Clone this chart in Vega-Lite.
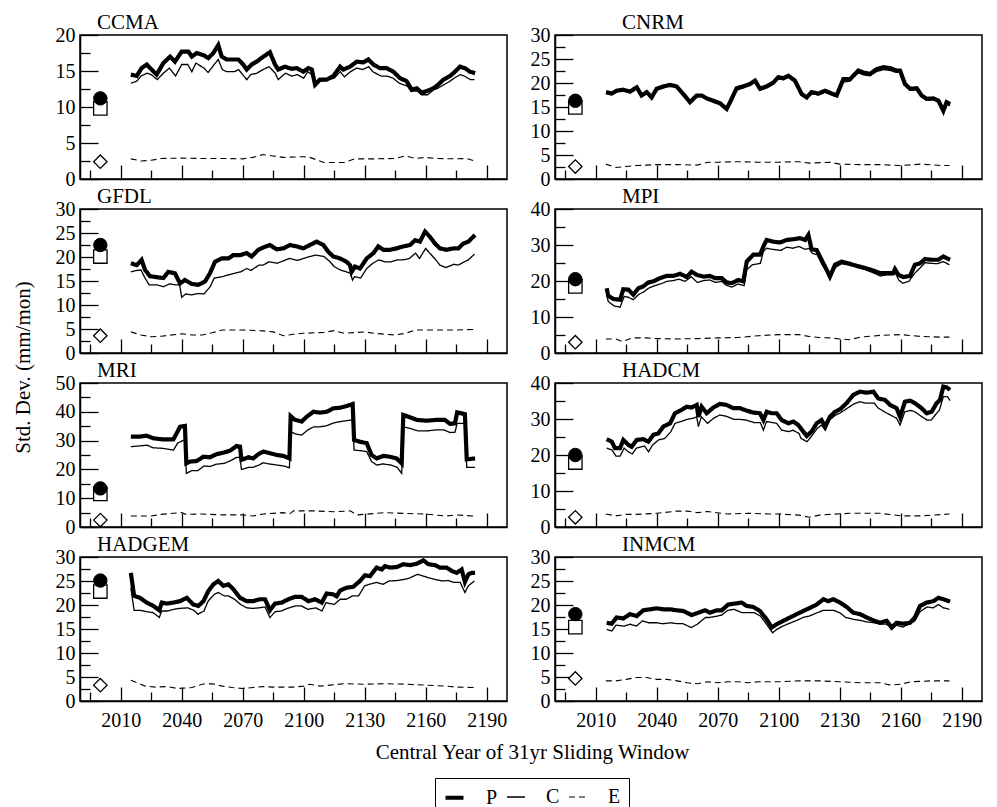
{
"$schema": "https://vega.github.io/schema/vega-lite/v6.json",
"background": "white",
"padding": {"left": 11, "top": 11, "right": 5, "bottom": 0},
"datasets": {
"obs": [
{"model":"CCMA","stat":"C","year":2000,"sd":9.8},{"model":"CCMA","stat":"E","year":2000,"sd":2.4},{"model":"CCMA","stat":"P","year":2000,"sd":11.2},
{"model":"CNRM","stat":"C","year":2000,"sd":14.9},{"model":"CNRM","stat":"E","year":2000,"sd":2.6},{"model":"CNRM","stat":"P","year":2000,"sd":16.3},
{"model":"GFDL","stat":"C","year":2000,"sd":20.1},{"model":"GFDL","stat":"E","year":2000,"sd":3.6},{"model":"GFDL","stat":"P","year":2000,"sd":22.5},
{"model":"MPI","stat":"C","year":2000,"sd":18.5},{"model":"MPI","stat":"E","year":2000,"sd":3.0},{"model":"MPI","stat":"P","year":2000,"sd":20.5},
{"model":"MRI","stat":"C","year":2000,"sd":11.5},{"model":"MRI","stat":"E","year":2000,"sd":2.4},{"model":"MRI","stat":"P","year":2000,"sd":13.4},
{"model":"HADCM","stat":"C","year":2000,"sd":17.9},{"model":"HADCM","stat":"E","year":2000,"sd":2.7},{"model":"HADCM","stat":"P","year":2000,"sd":20.0},
{"model":"HADGEM","stat":"C","year":2000,"sd":22.8},{"model":"HADGEM","stat":"E","year":2000,"sd":3.3},{"model":"HADGEM","stat":"P","year":2000,"sd":25.1},
{"model":"INMCM","stat":"C","year":2000,"sd":15.4},{"model":"INMCM","stat":"E","year":2000,"sd":4.7},{"model":"INMCM","stat":"P","year":2000,"sd":18.1}
],
"CCMA": [
{"series":"P","year":2015,"sd":14.5},{"series":"P","year":2017.9,"sd":14.3},{"series":"P","year":2020.3,"sd":15.4},{"series":"P","year":2022.8,"sd":15.9},{"series":"P","year":2025.2,"sd":15.2},{"series":"P","year":2027.7,"sd":14.5},{"series":"P","year":2031,"sd":16.1},{"series":"P","year":2034.3,"sd":17.0},{"series":"P","year":2036.7,"sd":16.3},{"series":"P","year":2040,"sd":17.7},{"series":"P","year":2043.3,"sd":17.7},{"series":"P","year":2045,"sd":17.0},{"series":"P","year":2047.4,"sd":17.5},{"series":"P","year":2050.7,"sd":17.2},{"series":"P","year":2053.1,"sd":16.8},{"series":"P","year":2055.6,"sd":17.5},{"series":"P","year":2058,"sd":18.6},{"series":"P","year":2059.7,"sd":17.0},{"series":"P","year":2062.1,"sd":16.6},{"series":"P","year":2065.4,"sd":16.6},{"series":"P","year":2067.9,"sd":16.6},{"series":"P","year":2070.3,"sd":15.9},{"series":"P","year":2072,"sd":15.2},{"series":"P","year":2074.4,"sd":15.9},{"series":"P","year":2076.9,"sd":16.3},{"series":"P","year":2080.2,"sd":17.0},{"series":"P","year":2083.4,"sd":17.6},{"series":"P","year":2085.9,"sd":15.9},{"series":"P","year":2087.5,"sd":15.2},{"series":"P","year":2090.8,"sd":15.6},{"series":"P","year":2094.1,"sd":15.3},{"series":"P","year":2096.6,"sd":15.4},{"series":"P","year":2099.8,"sd":14.9},{"series":"P","year":2102.3,"sd":15.4},{"series":"P","year":2104,"sd":15.2},{"series":"P","year":2105.6,"sd":13.1},{"series":"P","year":2108,"sd":13.8},{"series":"P","year":2111.3,"sd":13.8},{"series":"P","year":2114.6,"sd":14.3},{"series":"P","year":2117.9,"sd":15.6},{"series":"P","year":2119.5,"sd":15.2},{"series":"P","year":2122.8,"sd":15.6},{"series":"P","year":2126.1,"sd":16.3},{"series":"P","year":2129.3,"sd":16.2},{"series":"P","year":2131.8,"sd":16.6},{"series":"P","year":2134.3,"sd":15.9},{"series":"P","year":2137.5,"sd":15.4},{"series":"P","year":2140.8,"sd":15.4},{"series":"P","year":2144.1,"sd":14.9},{"series":"P","year":2147.4,"sd":14.0},{"series":"P","year":2150.6,"sd":13.6},{"series":"P","year":2153.1,"sd":12.4},{"series":"P","year":2155.6,"sd":12.6},{"series":"P","year":2158,"sd":12.0},{"series":"P","year":2160.5,"sd":12.2},{"series":"P","year":2163.8,"sd":12.6},{"series":"P","year":2166.2,"sd":13.1},{"series":"P","year":2168.7,"sd":13.8},{"series":"P","year":2172,"sd":14.3},{"series":"P","year":2174.4,"sd":14.9},{"series":"P","year":2176.9,"sd":15.6},{"series":"P","year":2179.3,"sd":15.4},{"series":"P","year":2181.8,"sd":14.9},{"series":"P","year":2184.3,"sd":14.7},
{"series":"C","year":2015,"sd":13.3},{"series":"C","year":2018,"sd":13.6},{"series":"C","year":2020,"sd":14.3},{"series":"C","year":2023,"sd":14.7},{"series":"C","year":2025,"sd":14.5},{"series":"C","year":2028,"sd":13.8},{"series":"C","year":2031,"sd":14.7},{"series":"C","year":2034,"sd":15.4},{"series":"C","year":2037,"sd":14.3},{"series":"C","year":2040,"sd":15.9},{"series":"C","year":2043,"sd":15.9},{"series":"C","year":2045,"sd":14.9},{"series":"C","year":2047,"sd":16.1},{"series":"C","year":2051,"sd":15.4},{"series":"C","year":2053,"sd":14.8},{"series":"C","year":2056,"sd":15.9},{"series":"C","year":2058,"sd":16.6},{"series":"C","year":2060,"sd":15.2},{"series":"C","year":2062,"sd":14.9},{"series":"C","year":2066,"sd":14.9},{"series":"C","year":2068,"sd":15.2},{"series":"C","year":2070,"sd":14.5},{"series":"C","year":2072,"sd":13.8},{"series":"C","year":2074,"sd":14.5},{"series":"C","year":2077,"sd":14.7},{"series":"C","year":2080,"sd":15.2},{"series":"C","year":2083,"sd":15.6},{"series":"C","year":2086,"sd":14.7},{"series":"C","year":2087.5,"sd":13.8},{"series":"C","year":2091,"sd":14.7},{"series":"C","year":2094,"sd":14.3},{"series":"C","year":2097,"sd":14.5},{"series":"C","year":2100,"sd":14.0},{"series":"C","year":2102,"sd":14.9},{"series":"C","year":2104,"sd":14.5},{"series":"C","year":2106,"sd":12.9},{"series":"C","year":2108,"sd":13.6},{"series":"C","year":2111,"sd":13.7},{"series":"C","year":2115,"sd":14.0},{"series":"C","year":2118,"sd":14.9},{"series":"C","year":2120,"sd":14.2},{"series":"C","year":2123,"sd":14.9},{"series":"C","year":2126,"sd":15.4},{"series":"C","year":2129,"sd":15.2},{"series":"C","year":2132,"sd":15.6},{"series":"C","year":2134,"sd":14.9},{"series":"C","year":2138,"sd":14.3},{"series":"C","year":2141,"sd":14.3},{"series":"C","year":2144,"sd":14.0},{"series":"C","year":2147,"sd":13.3},{"series":"C","year":2151,"sd":12.9},{"series":"C","year":2153,"sd":12.2},{"series":"C","year":2156,"sd":12.2},{"series":"C","year":2158,"sd":11.7},{"series":"C","year":2161,"sd":11.7},{"series":"C","year":2164,"sd":12.4},{"series":"C","year":2166,"sd":12.6},{"series":"C","year":2169,"sd":13.1},{"series":"C","year":2172,"sd":13.6},{"series":"C","year":2174,"sd":14.0},{"series":"C","year":2177,"sd":14.5},{"series":"C","year":2179,"sd":14.3},{"series":"C","year":2182,"sd":13.8},{"series":"C","year":2184,"sd":13.8},
{"series":"E","year":2015,"sd":2.8},{"series":"E","year":2020,"sd":2.5},{"series":"E","year":2025,"sd":2.6},{"series":"E","year":2030,"sd":2.85},{"series":"E","year":2040,"sd":2.9},{"series":"E","year":2050,"sd":2.85},{"series":"E","year":2060,"sd":2.85},{"series":"E","year":2070,"sd":2.8},{"series":"E","year":2075,"sd":3.0},{"series":"E","year":2080,"sd":3.4},{"series":"E","year":2085,"sd":3.2},{"series":"E","year":2090,"sd":3.0},{"series":"E","year":2100,"sd":3.1},{"series":"E","year":2103,"sd":3.0},{"series":"E","year":2110,"sd":2.3},{"series":"E","year":2120,"sd":2.3},{"series":"E","year":2125,"sd":2.8},{"series":"E","year":2135,"sd":2.8},{"series":"E","year":2145,"sd":2.85},{"series":"E","year":2150,"sd":3.2},{"series":"E","year":2155,"sd":2.85},{"series":"E","year":2160,"sd":3.0},{"series":"E","year":2165,"sd":2.85},{"series":"E","year":2175,"sd":2.8},{"series":"E","year":2180,"sd":2.85},{"series":"E","year":2184,"sd":2.5}
],
"CNRM": [
{"series":"P","year":2015.1,"sd":18.1},{"series":"P","year":2017.9,"sd":17.8},{"series":"P","year":2020.3,"sd":18.4},{"series":"P","year":2023.6,"sd":18.6},{"series":"P","year":2026.9,"sd":18.2},{"series":"P","year":2030.2,"sd":19.1},{"series":"P","year":2032.6,"sd":17.4},{"series":"P","year":2035.1,"sd":18.1},{"series":"P","year":2037.5,"sd":17.0},{"series":"P","year":2040,"sd":18.8},{"series":"P","year":2043.3,"sd":19.3},{"series":"P","year":2046.6,"sd":19.6},{"series":"P","year":2049.8,"sd":19.3},{"series":"P","year":2053.1,"sd":17.7},{"series":"P","year":2056.4,"sd":16.0},{"series":"P","year":2059.7,"sd":17.4},{"series":"P","year":2062.1,"sd":17.4},{"series":"P","year":2064.6,"sd":16.8},{"series":"P","year":2067.9,"sd":16.3},{"series":"P","year":2071.1,"sd":15.8},{"series":"P","year":2074.4,"sd":14.6},{"series":"P","year":2076.1,"sd":16.0},{"series":"P","year":2079.3,"sd":18.9},{"series":"P","year":2082.6,"sd":19.3},{"series":"P","year":2085.9,"sd":19.8},{"series":"P","year":2088.4,"sd":20.5},{"series":"P","year":2090.8,"sd":18.8},{"series":"P","year":2094.1,"sd":19.3},{"series":"P","year":2097.4,"sd":20.1},{"series":"P","year":2099.8,"sd":21.2},{"series":"P","year":2102.3,"sd":21.0},{"series":"P","year":2104.8,"sd":21.5},{"series":"P","year":2108,"sd":20.5},{"series":"P","year":2111.3,"sd":17.7},{"series":"P","year":2113.8,"sd":17.0},{"series":"P","year":2116.2,"sd":18.1},{"series":"P","year":2119.5,"sd":17.8},{"series":"P","year":2122.8,"sd":18.4},{"series":"P","year":2126.1,"sd":17.8},{"series":"P","year":2128.5,"sd":17.4},{"series":"P","year":2131.8,"sd":20.8},{"series":"P","year":2135.1,"sd":20.8},{"series":"P","year":2136.7,"sd":21.5},{"series":"P","year":2139.2,"sd":22.6},{"series":"P","year":2141.6,"sd":22.2},{"series":"P","year":2144.9,"sd":21.9},{"series":"P","year":2148.2,"sd":22.9},{"series":"P","year":2151.5,"sd":23.3},{"series":"P","year":2154.8,"sd":23.1},{"series":"P","year":2158,"sd":22.6},{"series":"P","year":2159.7,"sd":22.6},{"series":"P","year":2162.1,"sd":19.8},{"series":"P","year":2164.6,"sd":18.8},{"series":"P","year":2167.9,"sd":18.9},{"series":"P","year":2170.3,"sd":17.4},{"series":"P","year":2172.8,"sd":16.7},{"series":"P","year":2176.1,"sd":16.8},{"series":"P","year":2178.6,"sd":16.3},{"series":"P","year":2181,"sd":14.2},{"series":"P","year":2182.6,"sd":16.0},{"series":"P","year":2184.3,"sd":15.6},
{"series":"C","year":2015.1,"sd":17.9},{"series":"C","year":2017.9,"sd":17.6},{"series":"C","year":2020.3,"sd":18.2},{"series":"C","year":2023.6,"sd":18.4},{"series":"C","year":2026.9,"sd":18.0},{"series":"C","year":2030.2,"sd":18.8},{"series":"C","year":2032.6,"sd":17.2},{"series":"C","year":2035.1,"sd":17.9},{"series":"C","year":2037.5,"sd":16.8},{"series":"C","year":2040,"sd":18.5},{"series":"C","year":2043.3,"sd":19.0},{"series":"C","year":2046.6,"sd":19.4},{"series":"C","year":2049.8,"sd":19.1},{"series":"C","year":2053.1,"sd":17.4},{"series":"C","year":2056.4,"sd":15.8},{"series":"C","year":2059.7,"sd":17.1},{"series":"C","year":2062.1,"sd":17.2},{"series":"C","year":2064.6,"sd":16.6},{"series":"C","year":2067.9,"sd":16.0},{"series":"C","year":2071.1,"sd":15.5},{"series":"C","year":2074.4,"sd":14.4},{"series":"C","year":2076.1,"sd":15.7},{"series":"C","year":2079.3,"sd":18.5},{"series":"C","year":2082.6,"sd":19.0},{"series":"C","year":2085.9,"sd":19.5},{"series":"C","year":2088.4,"sd":20.2},{"series":"C","year":2090.8,"sd":18.5},{"series":"C","year":2094.1,"sd":19.0},{"series":"C","year":2097.4,"sd":19.8},{"series":"C","year":2099.8,"sd":20.9},{"series":"C","year":2102.3,"sd":20.7},{"series":"C","year":2104.8,"sd":21.2},{"series":"C","year":2108,"sd":20.2},{"series":"C","year":2111.3,"sd":17.4},{"series":"C","year":2113.8,"sd":16.8},{"series":"C","year":2116.2,"sd":17.8},{"series":"C","year":2119.5,"sd":17.5},{"series":"C","year":2122.8,"sd":18.1},{"series":"C","year":2126.1,"sd":17.5},{"series":"C","year":2128.5,"sd":17.2},{"series":"C","year":2131.8,"sd":20.2},{"series":"C","year":2135.1,"sd":20.4},{"series":"C","year":2136.7,"sd":21.2},{"series":"C","year":2139.2,"sd":22.1},{"series":"C","year":2141.6,"sd":21.7},{"series":"C","year":2144.9,"sd":21.5},{"series":"C","year":2148.2,"sd":22.4},{"series":"C","year":2151.5,"sd":22.8},{"series":"C","year":2154.8,"sd":22.6},{"series":"C","year":2158,"sd":22.2},{"series":"C","year":2159.7,"sd":22.3},{"series":"C","year":2162.1,"sd":19.5},{"series":"C","year":2164.6,"sd":18.5},{"series":"C","year":2167.9,"sd":18.6},{"series":"C","year":2170.3,"sd":17.1},{"series":"C","year":2172.8,"sd":16.4},{"series":"C","year":2176.1,"sd":16.5},{"series":"C","year":2178.6,"sd":16.0},{"series":"C","year":2181,"sd":14.0},{"series":"C","year":2182.6,"sd":15.7},{"series":"C","year":2184.3,"sd":15.3},
{"series":"E","year":2015,"sd":3.1},{"series":"E","year":2020,"sd":2.4},{"series":"E","year":2025,"sd":2.6},{"series":"E","year":2030,"sd":2.8},{"series":"E","year":2040,"sd":3.0},{"series":"E","year":2050,"sd":3.0},{"series":"E","year":2060,"sd":2.9},{"series":"E","year":2065,"sd":3.5},{"series":"E","year":2070,"sd":3.5},{"series":"E","year":2080,"sd":3.6},{"series":"E","year":2090,"sd":3.5},{"series":"E","year":2100,"sd":3.5},{"series":"E","year":2110,"sd":3.6},{"series":"E","year":2115,"sd":3.3},{"series":"E","year":2125,"sd":3.5},{"series":"E","year":2130,"sd":3.1},{"series":"E","year":2140,"sd":3.0},{"series":"E","year":2150,"sd":3.0},{"series":"E","year":2160,"sd":2.8},{"series":"E","year":2170,"sd":3.1},{"series":"E","year":2180,"sd":2.8},{"series":"E","year":2184,"sd":2.8}
],
"GFDL": [
{"series":"P","year":2015,"sd":18.7},{"series":"P","year":2017.9,"sd":18.3},{"series":"P","year":2020.3,"sd":19.4},{"series":"P","year":2022,"sd":17.3},{"series":"P","year":2024.4,"sd":16.0},{"series":"P","year":2027.7,"sd":15.8},{"series":"P","year":2031,"sd":15.6},{"series":"P","year":2033.4,"sd":16.9},{"series":"P","year":2036.7,"sd":16.6},{"series":"P","year":2039.2,"sd":14.5},{"series":"P","year":2041.6,"sd":15.2},{"series":"P","year":2044.9,"sd":14.4},{"series":"P","year":2048.2,"sd":14.2},{"series":"P","year":2051.5,"sd":14.9},{"series":"P","year":2053.9,"sd":16.6},{"series":"P","year":2056.4,"sd":19.0},{"series":"P","year":2059.7,"sd":19.7},{"series":"P","year":2063,"sd":19.7},{"series":"P","year":2065.4,"sd":20.4},{"series":"P","year":2068.7,"sd":20.4},{"series":"P","year":2072,"sd":20.8},{"series":"P","year":2074.4,"sd":20.1},{"series":"P","year":2077.7,"sd":21.5},{"series":"P","year":2080.2,"sd":22.0},{"series":"P","year":2083.4,"sd":22.5},{"series":"P","year":2086.7,"sd":21.6},{"series":"P","year":2090,"sd":21.8},{"series":"P","year":2093.3,"sd":22.5},{"series":"P","year":2096.6,"sd":22.2},{"series":"P","year":2099.8,"sd":21.8},{"series":"P","year":2103.1,"sd":22.5},{"series":"P","year":2106.4,"sd":23.2},{"series":"P","year":2109.7,"sd":22.5},{"series":"P","year":2112.1,"sd":21.1},{"series":"P","year":2114.6,"sd":20.1},{"series":"P","year":2117.9,"sd":19.7},{"series":"P","year":2121.1,"sd":19.0},{"series":"P","year":2122.8,"sd":18.3},{"series":"P","year":2123.6,"sd":16.9},{"series":"P","year":2125.2,"sd":18.0},{"series":"P","year":2127.7,"sd":17.6},{"series":"P","year":2131,"sd":19.7},{"series":"P","year":2134.3,"sd":20.8},{"series":"P","year":2136.7,"sd":22.2},{"series":"P","year":2139.2,"sd":21.5},{"series":"P","year":2142.5,"sd":21.5},{"series":"P","year":2145.7,"sd":21.8},{"series":"P","year":2149,"sd":22.2},{"series":"P","year":2152.3,"sd":22.5},{"series":"P","year":2154.8,"sd":23.5},{"series":"P","year":2157.2,"sd":23.2},{"series":"P","year":2159.7,"sd":25.3},{"series":"P","year":2162.1,"sd":24.2},{"series":"P","year":2164.6,"sd":22.8},{"series":"P","year":2167,"sd":21.8},{"series":"P","year":2170.3,"sd":21.5},{"series":"P","year":2173.6,"sd":21.8},{"series":"P","year":2176.1,"sd":21.8},{"series":"P","year":2178.5,"sd":22.8},{"series":"P","year":2181,"sd":23.2},{"series":"P","year":2184.3,"sd":24.6},
{"series":"C","year":2015,"sd":16.9},{"series":"C","year":2018,"sd":17.2},{"series":"C","year":2020,"sd":17.3},{"series":"C","year":2022,"sd":15.6},{"series":"C","year":2024,"sd":14.2},{"series":"C","year":2028,"sd":14.2},{"series":"C","year":2031,"sd":13.8},{"series":"C","year":2034,"sd":14.4},{"series":"C","year":2037,"sd":14.2},{"series":"C","year":2039,"sd":14.2},{"series":"C","year":2040,"sd":11.6},{"series":"C","year":2042,"sd":12.3},{"series":"C","year":2045,"sd":12.1},{"series":"C","year":2048,"sd":12.4},{"series":"C","year":2051,"sd":12.3},{"series":"C","year":2054,"sd":13.8},{"series":"C","year":2056,"sd":15.6},{"series":"C","year":2060,"sd":15.9},{"series":"C","year":2063,"sd":16.3},{"series":"C","year":2066,"sd":16.6},{"series":"C","year":2069,"sd":16.9},{"series":"C","year":2072,"sd":17.6},{"series":"C","year":2074,"sd":17.2},{"series":"C","year":2078,"sd":18.3},{"series":"C","year":2080,"sd":18.3},{"series":"C","year":2083,"sd":19.0},{"series":"C","year":2087,"sd":18.7},{"series":"C","year":2090,"sd":19.2},{"series":"C","year":2093,"sd":19.7},{"series":"C","year":2097,"sd":19.3},{"series":"C","year":2100,"sd":19.7},{"series":"C","year":2103,"sd":20.1},{"series":"C","year":2106,"sd":20.4},{"series":"C","year":2110,"sd":20.1},{"series":"C","year":2113,"sd":19.0},{"series":"C","year":2115,"sd":18.0},{"series":"C","year":2118,"sd":17.3},{"series":"C","year":2121,"sd":16.9},{"series":"C","year":2123,"sd":16.6},{"series":"C","year":2124,"sd":15.2},{"series":"C","year":2125,"sd":15.9},{"series":"C","year":2128,"sd":15.6},{"series":"C","year":2131,"sd":17.6},{"series":"C","year":2134,"sd":18.7},{"series":"C","year":2137,"sd":19.4},{"series":"C","year":2140,"sd":19.0},{"series":"C","year":2143,"sd":19.0},{"series":"C","year":2146,"sd":19.4},{"series":"C","year":2149,"sd":19.4},{"series":"C","year":2152,"sd":19.7},{"series":"C","year":2155,"sd":20.8},{"series":"C","year":2157,"sd":19.7},{"series":"C","year":2160,"sd":21.8},{"series":"C","year":2162,"sd":20.8},{"series":"C","year":2165,"sd":19.4},{"series":"C","year":2167,"sd":18.3},{"series":"C","year":2170,"sd":17.8},{"series":"C","year":2174,"sd":18.5},{"series":"C","year":2176,"sd":18.3},{"series":"C","year":2179,"sd":19.0},{"series":"C","year":2181,"sd":19.4},{"series":"C","year":2184,"sd":20.6},
{"series":"E","year":2015,"sd":4.4},{"series":"E","year":2020,"sd":3.75},{"series":"E","year":2025,"sd":3.4},{"series":"E","year":2030,"sd":3.5},{"series":"E","year":2040,"sd":4.0},{"series":"E","year":2045,"sd":3.75},{"series":"E","year":2050,"sd":3.75},{"series":"E","year":2055,"sd":4.2},{"series":"E","year":2060,"sd":4.8},{"series":"E","year":2070,"sd":4.8},{"series":"E","year":2080,"sd":4.6},{"series":"E","year":2085,"sd":4.4},{"series":"E","year":2090,"sd":3.6},{"series":"E","year":2095,"sd":3.9},{"series":"E","year":2100,"sd":4.1},{"series":"E","year":2110,"sd":4.3},{"series":"E","year":2115,"sd":4.65},{"series":"E","year":2120,"sd":4.1},{"series":"E","year":2130,"sd":4.4},{"series":"E","year":2135,"sd":4.1},{"series":"E","year":2140,"sd":3.9},{"series":"E","year":2145,"sd":3.75},{"series":"E","year":2150,"sd":4.1},{"series":"E","year":2155,"sd":4.8},{"series":"E","year":2165,"sd":4.8},{"series":"E","year":2175,"sd":4.8},{"series":"E","year":2184,"sd":4.9}
],
"MPI": [
{"series":"P","year":2015.4,"sd":18.0},{"series":"P","year":2016.2,"sd":15.9},{"series":"P","year":2018.7,"sd":15.0},{"series":"P","year":2022,"sd":14.8},{"series":"P","year":2023.6,"sd":17.7},{"series":"P","year":2026.1,"sd":17.6},{"series":"P","year":2028.5,"sd":16.2},{"series":"P","year":2031,"sd":18.0},{"series":"P","year":2033.4,"sd":18.5},{"series":"P","year":2035.9,"sd":19.6},{"series":"P","year":2038.4,"sd":19.9},{"series":"P","year":2041.6,"sd":20.8},{"series":"P","year":2044.9,"sd":21.4},{"series":"P","year":2048.2,"sd":21.4},{"series":"P","year":2051.5,"sd":22.0},{"series":"P","year":2054.8,"sd":21.1},{"series":"P","year":2057.2,"sd":22.6},{"series":"P","year":2059.7,"sd":21.7},{"series":"P","year":2063,"sd":21.2},{"series":"P","year":2066.2,"sd":21.4},{"series":"P","year":2068.7,"sd":20.8},{"series":"P","year":2072,"sd":20.8},{"series":"P","year":2074.4,"sd":19.6},{"series":"P","year":2076.9,"sd":19.4},{"series":"P","year":2080.2,"sd":20.3},{"series":"P","year":2082.6,"sd":19.9},{"series":"P","year":2084.3,"sd":25.4},{"series":"P","year":2087.5,"sd":27.3},{"series":"P","year":2090.8,"sd":27.3},{"series":"P","year":2092.5,"sd":29.6},{"series":"P","year":2094.1,"sd":31.4},{"series":"P","year":2097.4,"sd":30.9},{"series":"P","year":2100.7,"sd":30.7},{"series":"P","year":2103.9,"sd":31.4},{"series":"P","year":2107.2,"sd":31.6},{"series":"P","year":2110.5,"sd":31.9},{"series":"P","year":2113,"sd":31.4},{"series":"P","year":2114.6,"sd":32.8},{"series":"P","year":2116.2,"sd":28.8},{"series":"P","year":2118.7,"sd":28.6},{"series":"P","year":2121.1,"sd":25.9},{"series":"P","year":2123.6,"sd":23.1},{"series":"P","year":2125.2,"sd":21.2},{"series":"P","year":2127.7,"sd":24.5},{"series":"P","year":2131,"sd":25.4},{"series":"P","year":2134.3,"sd":24.9},{"series":"P","year":2138.4,"sd":24.2},{"series":"P","year":2142.5,"sd":23.6},{"series":"P","year":2146.6,"sd":22.9},{"series":"P","year":2149.8,"sd":22.2},{"series":"P","year":2153.1,"sd":22.2},{"series":"P","year":2156.4,"sd":22.2},{"series":"P","year":2157.2,"sd":23.3},{"series":"P","year":2158.9,"sd":21.7},{"series":"P","year":2161.3,"sd":21.1},{"series":"P","year":2164.6,"sd":21.4},{"series":"P","year":2167,"sd":24.5},{"series":"P","year":2169.5,"sd":24.9},{"series":"P","year":2172,"sd":26.1},{"series":"P","year":2175.2,"sd":25.9},{"series":"P","year":2178.5,"sd":25.9},{"series":"P","year":2181,"sd":26.8},{"series":"P","year":2184.3,"sd":25.9},
{"series":"C","year":2015.4,"sd":16.2},{"series":"C","year":2016.2,"sd":14.3},{"series":"C","year":2019,"sd":13.1},{"series":"C","year":2022,"sd":12.7},{"series":"C","year":2024,"sd":15.7},{"series":"C","year":2026,"sd":15.5},{"series":"C","year":2028.5,"sd":14.8},{"series":"C","year":2031,"sd":16.2},{"series":"C","year":2034,"sd":17.1},{"series":"C","year":2036,"sd":18.0},{"series":"C","year":2039,"sd":18.7},{"series":"C","year":2042,"sd":19.2},{"series":"C","year":2045,"sd":19.9},{"series":"C","year":2048,"sd":20.1},{"series":"C","year":2051,"sd":20.5},{"series":"C","year":2054,"sd":19.9},{"series":"C","year":2057,"sd":21.2},{"series":"C","year":2060,"sd":19.6},{"series":"C","year":2063,"sd":20.1},{"series":"C","year":2066,"sd":20.3},{"series":"C","year":2069,"sd":19.6},{"series":"C","year":2072,"sd":19.9},{"series":"C","year":2074,"sd":18.9},{"series":"C","year":2077,"sd":18.3},{"series":"C","year":2080,"sd":19.2},{"series":"C","year":2083,"sd":18.7},{"series":"C","year":2084.3,"sd":23.1},{"series":"C","year":2087,"sd":24.5},{"series":"C","year":2091,"sd":24.9},{"series":"C","year":2092.5,"sd":28.2},{"series":"C","year":2094,"sd":29.1},{"series":"C","year":2097,"sd":28.8},{"series":"C","year":2101,"sd":28.5},{"series":"C","year":2104,"sd":29.4},{"series":"C","year":2107,"sd":29.1},{"series":"C","year":2110,"sd":29.6},{"series":"C","year":2113,"sd":28.8},{"series":"C","year":2115,"sd":29.1},{"series":"C","year":2116.5,"sd":27.7},{"series":"C","year":2119,"sd":27.3},{"series":"C","year":2121,"sd":24.9},{"series":"C","year":2124,"sd":22.2},{"series":"C","year":2125,"sd":20.8},{"series":"C","year":2128,"sd":23.8},{"series":"C","year":2131,"sd":24.8},{"series":"C","year":2134,"sd":24.5},{"series":"C","year":2138,"sd":24.0},{"series":"C","year":2142,"sd":23.3},{"series":"C","year":2146,"sd":22.4},{"series":"C","year":2150,"sd":21.4},{"series":"C","year":2153,"sd":21.7},{"series":"C","year":2156,"sd":21.7},{"series":"C","year":2157.5,"sd":22.2},{"series":"C","year":2159,"sd":20.3},{"series":"C","year":2161,"sd":19.4},{"series":"C","year":2164,"sd":19.9},{"series":"C","year":2167,"sd":22.2},{"series":"C","year":2169.5,"sd":23.6},{"series":"C","year":2172,"sd":25.1},{"series":"C","year":2175,"sd":24.9},{"series":"C","year":2178,"sd":24.8},{"series":"C","year":2181,"sd":25.4},{"series":"C","year":2184,"sd":24.5},
{"series":"E","year":2015,"sd":3.9},{"series":"E","year":2020,"sd":3.9},{"series":"E","year":2023,"sd":3.2},{"series":"E","year":2028,"sd":4.2},{"series":"E","year":2035,"sd":4.2},{"series":"E","year":2040,"sd":4.0},{"series":"E","year":2050,"sd":3.9},{"series":"E","year":2060,"sd":4.0},{"series":"E","year":2070,"sd":4.2},{"series":"E","year":2080,"sd":4.3},{"series":"E","year":2090,"sd":4.8},{"series":"E","year":2100,"sd":5.1},{"series":"E","year":2110,"sd":5.1},{"series":"E","year":2115,"sd":4.6},{"series":"E","year":2120,"sd":4.3},{"series":"E","year":2125,"sd":4.2},{"series":"E","year":2130,"sd":3.9},{"series":"E","year":2135,"sd":3.7},{"series":"E","year":2140,"sd":4.4},{"series":"E","year":2150,"sd":4.9},{"series":"E","year":2160,"sd":5.1},{"series":"E","year":2170,"sd":4.6},{"series":"E","year":2180,"sd":4.4},{"series":"E","year":2184,"sd":4.4}
],
"MRI": [
{"series":"P","year":2015,"sd":31.4},{"series":"P","year":2019.5,"sd":31.4},{"series":"P","year":2022.8,"sd":31.7},{"series":"P","year":2026.1,"sd":30.8},{"series":"P","year":2031,"sd":30.4},{"series":"P","year":2035.9,"sd":30.4},{"series":"P","year":2037.5,"sd":32.5},{"series":"P","year":2039.2,"sd":34.8},{"series":"P","year":2041.6,"sd":35.1},{"series":"P","year":2042.3,"sd":22.1},{"series":"P","year":2044.1,"sd":22.7},{"series":"P","year":2047.4,"sd":22.9},{"series":"P","year":2050.7,"sd":24.4},{"series":"P","year":2053.9,"sd":24.2},{"series":"P","year":2057.2,"sd":25.3},{"series":"P","year":2060.5,"sd":25.8},{"series":"P","year":2063.8,"sd":26.5},{"series":"P","year":2067,"sd":28.1},{"series":"P","year":2068.7,"sd":27.9},{"series":"P","year":2069.4,"sd":23.3},{"series":"P","year":2072.8,"sd":24.2},{"series":"P","year":2075.2,"sd":23.8},{"series":"P","year":2077.7,"sd":25.3},{"series":"P","year":2080.2,"sd":26.2},{"series":"P","year":2083.4,"sd":25.6},{"series":"P","year":2086.7,"sd":25.0},{"series":"P","year":2090,"sd":24.7},{"series":"P","year":2093,"sd":23.8},{"series":"P","year":2093.6,"sd":38.5},{"series":"P","year":2095.7,"sd":37.2},{"series":"P","year":2099,"sd":36.6},{"series":"P","year":2101.5,"sd":38.3},{"series":"P","year":2104.8,"sd":40.0},{"series":"P","year":2108,"sd":39.7},{"series":"P","year":2111.3,"sd":40.0},{"series":"P","year":2114.6,"sd":41.2},{"series":"P","year":2117.9,"sd":41.4},{"series":"P","year":2121.1,"sd":42.0},{"series":"P","year":2124.1,"sd":42.7},{"series":"P","year":2124.8,"sd":30.2},{"series":"P","year":2127.7,"sd":29.6},{"series":"P","year":2131,"sd":29.1},{"series":"P","year":2133.4,"sd":25.0},{"series":"P","year":2135.9,"sd":23.8},{"series":"P","year":2139.2,"sd":24.7},{"series":"P","year":2142.5,"sd":24.4},{"series":"P","year":2145.7,"sd":23.8},{"series":"P","year":2148.2,"sd":22.1},{"series":"P","year":2149,"sd":38.9},{"series":"P","year":2152.3,"sd":38.1},{"series":"P","year":2155.6,"sd":37.2},{"series":"P","year":2160.5,"sd":36.9},{"series":"P","year":2165.4,"sd":37.2},{"series":"P","year":2169.5,"sd":37.2},{"series":"P","year":2172,"sd":35.8},{"series":"P","year":2174.4,"sd":36.0},{"series":"P","year":2175.5,"sd":39.8},{"series":"P","year":2179.3,"sd":39.2},{"series":"P","year":2180.2,"sd":23.5},{"series":"P","year":2184.3,"sd":23.8},
{"series":"C","year":2015,"sd":27.9},{"series":"C","year":2020,"sd":28.2},{"series":"C","year":2023,"sd":28.4},{"series":"C","year":2026,"sd":27.5},{"series":"C","year":2031,"sd":27.3},{"series":"C","year":2036,"sd":26.7},{"series":"C","year":2038,"sd":29.1},{"series":"C","year":2041.6,"sd":30.4},{"series":"C","year":2042.3,"sd":18.6},{"series":"C","year":2045,"sd":19.6},{"series":"C","year":2048,"sd":19.6},{"series":"C","year":2051,"sd":21.2},{"series":"C","year":2054,"sd":21.0},{"series":"C","year":2057,"sd":21.8},{"series":"C","year":2061,"sd":22.1},{"series":"C","year":2064,"sd":23.0},{"series":"C","year":2067,"sd":24.2},{"series":"C","year":2068.7,"sd":24.2},{"series":"C","year":2069.4,"sd":20.0},{"series":"C","year":2073,"sd":20.7},{"series":"C","year":2075,"sd":20.7},{"series":"C","year":2078,"sd":21.5},{"series":"C","year":2080,"sd":22.3},{"series":"C","year":2083,"sd":21.9},{"series":"C","year":2087,"sd":21.5},{"series":"C","year":2090,"sd":21.2},{"series":"C","year":2093,"sd":20.6},{"series":"C","year":2093.6,"sd":33.1},{"series":"C","year":2096,"sd":32.3},{"series":"C","year":2099,"sd":31.9},{"series":"C","year":2102,"sd":33.7},{"series":"C","year":2105,"sd":34.8},{"series":"C","year":2108,"sd":34.8},{"series":"C","year":2111,"sd":35.1},{"series":"C","year":2115,"sd":36.2},{"series":"C","year":2118,"sd":36.6},{"series":"C","year":2121,"sd":36.9},{"series":"C","year":2124.1,"sd":37.2},{"series":"C","year":2124.8,"sd":26.7},{"series":"C","year":2128,"sd":26.5},{"series":"C","year":2131,"sd":26.2},{"series":"C","year":2133.4,"sd":22.7},{"series":"C","year":2136,"sd":21.5},{"series":"C","year":2139,"sd":21.9},{"series":"C","year":2143,"sd":21.5},{"series":"C","year":2146,"sd":20.7},{"series":"C","year":2148.2,"sd":18.6},{"series":"C","year":2149,"sd":34.8},{"series":"C","year":2152,"sd":34.3},{"series":"C","year":2156,"sd":33.4},{"series":"C","year":2161,"sd":33.4},{"series":"C","year":2165,"sd":33.7},{"series":"C","year":2169,"sd":33.7},{"series":"C","year":2172,"sd":32.8},{"series":"C","year":2174.4,"sd":32.9},{"series":"C","year":2175.5,"sd":36.0},{"series":"C","year":2179.3,"sd":36.0},{"series":"C","year":2180.2,"sd":20.7},{"series":"C","year":2184.3,"sd":20.7},
{"series":"E","year":2015,"sd":3.8},{"series":"E","year":2025,"sd":3.8},{"series":"E","year":2030,"sd":4.4},{"series":"E","year":2040,"sd":5.0},{"series":"E","year":2042,"sd":4.4},{"series":"E","year":2050,"sd":4.5},{"series":"E","year":2060,"sd":4.2},{"series":"E","year":2070,"sd":4.2},{"series":"E","year":2075,"sd":3.8},{"series":"E","year":2080,"sd":4.5},{"series":"E","year":2090,"sd":5.0},{"series":"E","year":2093,"sd":4.5},{"series":"E","year":2095,"sd":5.6},{"series":"E","year":2105,"sd":5.6},{"series":"E","year":2115,"sd":5.3},{"series":"E","year":2123,"sd":5.6},{"series":"E","year":2126,"sd":4.2},{"series":"E","year":2130,"sd":4.4},{"series":"E","year":2140,"sd":5.0},{"series":"E","year":2150,"sd":4.7},{"series":"E","year":2160,"sd":4.5},{"series":"E","year":2170,"sd":3.8},{"series":"E","year":2175,"sd":4.2},{"series":"E","year":2184,"sd":3.8}
],
"HADCM": [
{"series":"P","year":2015.4,"sd":24.4},{"series":"P","year":2017.9,"sd":23.7},{"series":"P","year":2019.5,"sd":21.9},{"series":"P","year":2022,"sd":21.9},{"series":"P","year":2023.6,"sd":24.2},{"series":"P","year":2026.1,"sd":22.8},{"series":"P","year":2027.7,"sd":22.3},{"series":"P","year":2030.2,"sd":24.2},{"series":"P","year":2033.4,"sd":24.4},{"series":"P","year":2035.9,"sd":23.7},{"series":"P","year":2038.4,"sd":25.6},{"series":"P","year":2040.8,"sd":26.0},{"series":"P","year":2043.3,"sd":27.9},{"series":"P","year":2046.6,"sd":28.8},{"series":"P","year":2049,"sd":31.6},{"series":"P","year":2051.5,"sd":32.3},{"series":"P","year":2054.8,"sd":33.4},{"series":"P","year":2057.2,"sd":33.2},{"series":"P","year":2059.7,"sd":33.9},{"series":"P","year":2060.5,"sd":30.6},{"series":"P","year":2062.1,"sd":33.4},{"series":"P","year":2064.6,"sd":31.6},{"series":"P","year":2067.9,"sd":33.2},{"series":"P","year":2071.1,"sd":34.2},{"series":"P","year":2074.4,"sd":33.9},{"series":"P","year":2077.7,"sd":33.0},{"series":"P","year":2081,"sd":33.0},{"series":"P","year":2084.3,"sd":32.3},{"series":"P","year":2087.5,"sd":31.8},{"series":"P","year":2090.8,"sd":31.6},{"series":"P","year":2092.5,"sd":29.7},{"series":"P","year":2094.1,"sd":32.0},{"series":"P","year":2096.6,"sd":31.6},{"series":"P","year":2099,"sd":31.6},{"series":"P","year":2101.5,"sd":29.7},{"series":"P","year":2104.8,"sd":28.8},{"series":"P","year":2107.2,"sd":29.3},{"series":"P","year":2109.7,"sd":28.3},{"series":"P","year":2111.3,"sd":27.1},{"series":"P","year":2113.8,"sd":25.3},{"series":"P","year":2116.2,"sd":26.5},{"series":"P","year":2118.7,"sd":28.8},{"series":"P","year":2121.1,"sd":29.7},{"series":"P","year":2122.8,"sd":27.9},{"series":"P","year":2125.2,"sd":30.6},{"series":"P","year":2127.7,"sd":32.0},{"series":"P","year":2130.2,"sd":32.7},{"series":"P","year":2133.4,"sd":34.4},{"series":"P","year":2136.7,"sd":36.7},{"series":"P","year":2140,"sd":37.6},{"series":"P","year":2143.3,"sd":37.3},{"series":"P","year":2146.6,"sd":37.6},{"series":"P","year":2149,"sd":35.7},{"series":"P","year":2152.3,"sd":35.3},{"series":"P","year":2154.8,"sd":33.9},{"series":"P","year":2158,"sd":33.0},{"series":"P","year":2159.7,"sd":30.6},{"series":"P","year":2162.1,"sd":34.8},{"series":"P","year":2164.6,"sd":35.1},{"series":"P","year":2167,"sd":34.4},{"series":"P","year":2170.3,"sd":33.0},{"series":"P","year":2172.8,"sd":31.6},{"series":"P","year":2175.2,"sd":32.0},{"series":"P","year":2177.7,"sd":34.4},{"series":"P","year":2179.3,"sd":35.3},{"series":"P","year":2181,"sd":39.0},{"series":"P","year":2182.6,"sd":38.8},{"series":"P","year":2184.3,"sd":38.1},
{"series":"C","year":2015.4,"sd":21.9},{"series":"C","year":2018,"sd":21.4},{"series":"C","year":2020,"sd":19.7},{"series":"C","year":2022,"sd":19.7},{"series":"C","year":2024,"sd":21.9},{"series":"C","year":2026,"sd":20.9},{"series":"C","year":2028,"sd":20.3},{"series":"C","year":2030,"sd":21.9},{"series":"C","year":2034,"sd":22.5},{"series":"C","year":2036,"sd":20.9},{"series":"C","year":2038,"sd":22.8},{"series":"C","year":2041,"sd":24.2},{"series":"C","year":2044,"sd":24.6},{"series":"C","year":2047,"sd":26.5},{"series":"C","year":2049,"sd":28.8},{"series":"C","year":2052,"sd":29.3},{"series":"C","year":2055,"sd":29.9},{"series":"C","year":2058,"sd":30.2},{"series":"C","year":2059.7,"sd":30.6},{"series":"C","year":2060.5,"sd":27.9},{"series":"C","year":2062,"sd":30.6},{"series":"C","year":2065,"sd":28.8},{"series":"C","year":2068,"sd":30.2},{"series":"C","year":2071,"sd":31.1},{"series":"C","year":2074,"sd":30.8},{"series":"C","year":2078,"sd":29.9},{"series":"C","year":2081,"sd":29.9},{"series":"C","year":2084,"sd":29.7},{"series":"C","year":2088,"sd":29.0},{"series":"C","year":2091,"sd":29.0},{"series":"C","year":2092.5,"sd":26.9},{"series":"C","year":2094,"sd":29.3},{"series":"C","year":2097,"sd":29.0},{"series":"C","year":2099,"sd":28.8},{"series":"C","year":2101.5,"sd":26.9},{"series":"C","year":2105,"sd":26.5},{"series":"C","year":2107,"sd":26.9},{"series":"C","year":2110,"sd":26.0},{"series":"C","year":2111,"sd":24.6},{"series":"C","year":2114,"sd":23.7},{"series":"C","year":2116,"sd":25.1},{"series":"C","year":2119,"sd":27.4},{"series":"C","year":2121,"sd":28.3},{"series":"C","year":2123,"sd":26.9},{"series":"C","year":2125,"sd":29.7},{"series":"C","year":2128,"sd":31.1},{"series":"C","year":2130,"sd":31.6},{"series":"C","year":2133,"sd":32.7},{"series":"C","year":2137,"sd":34.2},{"series":"C","year":2140,"sd":34.8},{"series":"C","year":2143,"sd":34.4},{"series":"C","year":2147,"sd":34.4},{"series":"C","year":2149,"sd":33.0},{"series":"C","year":2152,"sd":32.0},{"series":"C","year":2155,"sd":31.1},{"series":"C","year":2158,"sd":30.2},{"series":"C","year":2159.7,"sd":28.3},{"series":"C","year":2162,"sd":32.0},{"series":"C","year":2165,"sd":32.4},{"series":"C","year":2167,"sd":32.0},{"series":"C","year":2170,"sd":30.8},{"series":"C","year":2173,"sd":29.7},{"series":"C","year":2175,"sd":29.7},{"series":"C","year":2178,"sd":31.8},{"series":"C","year":2179,"sd":32.4},{"series":"C","year":2181,"sd":36.2},{"series":"C","year":2183,"sd":36.2},{"series":"C","year":2184.3,"sd":35.1},
{"series":"E","year":2015,"sd":3.6},{"series":"E","year":2020,"sd":3.1},{"series":"E","year":2025,"sd":3.5},{"series":"E","year":2030,"sd":3.5},{"series":"E","year":2040,"sd":3.8},{"series":"E","year":2050,"sd":4.4},{"series":"E","year":2055,"sd":4.4},{"series":"E","year":2060,"sd":4.0},{"series":"E","year":2065,"sd":4.3},{"series":"E","year":2075,"sd":3.6},{"series":"E","year":2085,"sd":3.8},{"series":"E","year":2095,"sd":3.6},{"series":"E","year":2100,"sd":3.6},{"series":"E","year":2110,"sd":3.3},{"series":"E","year":2115,"sd":2.7},{"series":"E","year":2120,"sd":3.3},{"series":"E","year":2125,"sd":3.5},{"series":"E","year":2135,"sd":3.8},{"series":"E","year":2150,"sd":3.8},{"series":"E","year":2160,"sd":3.1},{"series":"E","year":2165,"sd":3.1},{"series":"E","year":2170,"sd":3.1},{"series":"E","year":2175,"sd":3.3},{"series":"E","year":2184,"sd":3.6}
],
"HADGEM": [
{"series":"P","year":2015,"sd":26.7},{"series":"P","year":2016.6,"sd":21.9},{"series":"P","year":2019.5,"sd":21.5},{"series":"P","year":2022.8,"sd":20.5},{"series":"P","year":2026.1,"sd":19.8},{"series":"P","year":2029,"sd":18.9},{"series":"P","year":2030.2,"sd":20.5},{"series":"P","year":2032.6,"sd":20.3},{"series":"P","year":2035.9,"sd":20.5},{"series":"P","year":2039.2,"sd":20.8},{"series":"P","year":2042.5,"sd":21.5},{"series":"P","year":2045.7,"sd":20.1},{"series":"P","year":2048.2,"sd":19.8},{"series":"P","year":2050.7,"sd":20.8},{"series":"P","year":2053.1,"sd":22.9},{"series":"P","year":2055.6,"sd":24.3},{"series":"P","year":2058,"sd":25.0},{"series":"P","year":2060.5,"sd":24.0},{"series":"P","year":2063,"sd":24.3},{"series":"P","year":2065.4,"sd":23.3},{"series":"P","year":2068.7,"sd":21.5},{"series":"P","year":2072,"sd":20.8},{"series":"P","year":2075.2,"sd":20.8},{"series":"P","year":2078.5,"sd":21.2},{"series":"P","year":2081,"sd":21.2},{"series":"P","year":2083.4,"sd":18.9},{"series":"P","year":2085.9,"sd":20.3},{"series":"P","year":2089.2,"sd":20.5},{"series":"P","year":2092.5,"sd":21.2},{"series":"P","year":2095.7,"sd":21.7},{"series":"P","year":2099,"sd":21.7},{"series":"P","year":2102.3,"sd":20.8},{"series":"P","year":2105.6,"sd":21.2},{"series":"P","year":2108.9,"sd":20.5},{"series":"P","year":2111.3,"sd":22.4},{"series":"P","year":2114.6,"sd":22.2},{"series":"P","year":2116.2,"sd":21.8},{"series":"P","year":2117.9,"sd":23.0},{"series":"P","year":2121.1,"sd":23.6},{"series":"P","year":2124.4,"sd":23.8},{"series":"P","year":2127.7,"sd":25.0},{"series":"P","year":2130.2,"sd":26.2},{"series":"P","year":2132.6,"sd":26.0},{"series":"P","year":2135.9,"sd":27.8},{"series":"P","year":2138.4,"sd":27.4},{"series":"P","year":2140,"sd":28.1},{"series":"P","year":2142.5,"sd":27.8},{"series":"P","year":2145.7,"sd":27.9},{"series":"P","year":2149,"sd":28.5},{"series":"P","year":2152.3,"sd":28.3},{"series":"P","year":2155.6,"sd":28.6},{"series":"P","year":2158.9,"sd":29.3},{"series":"P","year":2161.3,"sd":28.5},{"series":"P","year":2164.6,"sd":28.3},{"series":"P","year":2167,"sd":27.8},{"series":"P","year":2170.3,"sd":27.8},{"series":"P","year":2172.8,"sd":27.1},{"series":"P","year":2175.2,"sd":26.7},{"series":"P","year":2177.7,"sd":27.4},{"series":"P","year":2179.3,"sd":24.8},{"series":"P","year":2181,"sd":26.4},{"series":"P","year":2182.6,"sd":26.7},{"series":"P","year":2184.3,"sd":26.7},
{"series":"C","year":2015,"sd":23.6},{"series":"C","year":2016.6,"sd":18.9},{"series":"C","year":2019.5,"sd":18.9},{"series":"C","year":2023,"sd":18.6},{"series":"C","year":2026,"sd":18.4},{"series":"C","year":2029,"sd":17.4},{"series":"C","year":2030.2,"sd":18.75},{"series":"C","year":2033,"sd":18.75},{"series":"C","year":2036,"sd":19.1},{"series":"C","year":2039,"sd":19.3},{"series":"C","year":2043,"sd":19.4},{"series":"C","year":2046,"sd":18.9},{"series":"C","year":2048,"sd":18.1},{"series":"C","year":2051,"sd":18.75},{"series":"C","year":2053,"sd":20.8},{"series":"C","year":2056,"sd":22.2},{"series":"C","year":2058,"sd":22.6},{"series":"C","year":2061,"sd":21.9},{"series":"C","year":2063,"sd":21.9},{"series":"C","year":2066,"sd":21.2},{"series":"C","year":2069,"sd":20.1},{"series":"C","year":2072,"sd":19.4},{"series":"C","year":2075,"sd":19.3},{"series":"C","year":2078,"sd":19.4},{"series":"C","year":2081,"sd":19.6},{"series":"C","year":2083.4,"sd":17.4},{"series":"C","year":2086,"sd":18.6},{"series":"C","year":2089,"sd":18.75},{"series":"C","year":2092,"sd":19.3},{"series":"C","year":2096,"sd":19.8},{"series":"C","year":2099,"sd":19.8},{"series":"C","year":2102,"sd":19.1},{"series":"C","year":2106,"sd":19.4},{"series":"C","year":2109,"sd":18.75},{"series":"C","year":2111,"sd":20.5},{"series":"C","year":2115,"sd":20.1},{"series":"C","year":2118,"sd":21.2},{"series":"C","year":2121,"sd":21.2},{"series":"C","year":2124,"sd":21.9},{"series":"C","year":2127,"sd":21.9},{"series":"C","year":2130,"sd":24.0},{"series":"C","year":2133,"sd":24.4},{"series":"C","year":2136,"sd":24.7},{"series":"C","year":2139,"sd":24.3},{"series":"C","year":2142,"sd":25.0},{"series":"C","year":2146,"sd":25.1},{"series":"C","year":2149,"sd":25.3},{"series":"C","year":2152,"sd":25.6},{"series":"C","year":2156,"sd":26.4},{"series":"C","year":2159,"sd":26.0},{"series":"C","year":2162,"sd":25.6},{"series":"C","year":2165,"sd":25.3},{"series":"C","year":2168,"sd":25.0},{"series":"C","year":2171,"sd":25.1},{"series":"C","year":2174,"sd":24.7},{"series":"C","year":2177,"sd":24.7},{"series":"C","year":2179.3,"sd":22.6},{"series":"C","year":2181,"sd":24.0},{"series":"C","year":2184,"sd":25.0},
{"series":"E","year":2015,"sd":4.3},{"series":"E","year":2018,"sd":3.8},{"series":"E","year":2022,"sd":3.1},{"series":"E","year":2027,"sd":2.9},{"series":"E","year":2033,"sd":3.0},{"series":"E","year":2038,"sd":2.6},{"series":"E","year":2045,"sd":2.8},{"series":"E","year":2050,"sd":3.5},{"series":"E","year":2055,"sd":3.6},{"series":"E","year":2060,"sd":3.1},{"series":"E","year":2065,"sd":2.8},{"series":"E","year":2070,"sd":2.6},{"series":"E","year":2075,"sd":2.8},{"series":"E","year":2080,"sd":3.0},{"series":"E","year":2085,"sd":2.9},{"series":"E","year":2090,"sd":2.9},{"series":"E","year":2095,"sd":2.9},{"series":"E","year":2100,"sd":3.1},{"series":"E","year":2103,"sd":3.5},{"series":"E","year":2108,"sd":3.1},{"series":"E","year":2113,"sd":3.3},{"series":"E","year":2120,"sd":3.6},{"series":"E","year":2130,"sd":3.5},{"series":"E","year":2140,"sd":3.6},{"series":"E","year":2150,"sd":3.5},{"series":"E","year":2160,"sd":3.3},{"series":"E","year":2170,"sd":3.1},{"series":"E","year":2175,"sd":2.9},{"series":"E","year":2184,"sd":2.8}
],
"INMCM": [
{"series":"P","year":2015.4,"sd":16.3},{"series":"P","year":2017.9,"sd":16.1},{"series":"P","year":2020.3,"sd":17.4},{"series":"P","year":2023.6,"sd":17.2},{"series":"P","year":2026.9,"sd":18.1},{"series":"P","year":2030.2,"sd":17.7},{"series":"P","year":2033.4,"sd":18.9},{"series":"P","year":2036.7,"sd":19.1},{"series":"P","year":2040,"sd":19.3},{"series":"P","year":2043.3,"sd":19.1},{"series":"P","year":2046.6,"sd":19.1},{"series":"P","year":2049.8,"sd":18.9},{"series":"P","year":2053.1,"sd":18.75},{"series":"P","year":2057.2,"sd":17.9},{"series":"P","year":2060.5,"sd":18.4},{"series":"P","year":2063.8,"sd":18.9},{"series":"P","year":2066.2,"sd":18.4},{"series":"P","year":2069.5,"sd":18.9},{"series":"P","year":2072,"sd":18.9},{"series":"P","year":2075.2,"sd":20.1},{"series":"P","year":2078.5,"sd":20.3},{"series":"P","year":2081.8,"sd":20.5},{"series":"P","year":2084.3,"sd":19.8},{"series":"P","year":2087.5,"sd":19.6},{"series":"P","year":2090.8,"sd":18.75},{"series":"P","year":2094.1,"sd":17.0},{"series":"P","year":2096.6,"sd":15.3},{"series":"P","year":2099,"sd":16.0},{"series":"P","year":2102.3,"sd":16.7},{"series":"P","year":2105.6,"sd":17.4},{"series":"P","year":2108.9,"sd":18.1},{"series":"P","year":2112.1,"sd":18.75},{"series":"P","year":2115.4,"sd":19.4},{"series":"P","year":2118.7,"sd":20.1},{"series":"P","year":2122,"sd":21.2},{"series":"P","year":2124.4,"sd":20.8},{"series":"P","year":2126.9,"sd":21.2},{"series":"P","year":2130.2,"sd":20.5},{"series":"P","year":2133.4,"sd":19.6},{"series":"P","year":2136.7,"sd":18.4},{"series":"P","year":2140,"sd":18.1},{"series":"P","year":2143.3,"sd":17.4},{"series":"P","year":2146.6,"sd":16.8},{"series":"P","year":2149.8,"sd":16.3},{"series":"P","year":2153.1,"sd":16.7},{"series":"P","year":2155.6,"sd":15.3},{"series":"P","year":2158,"sd":16.3},{"series":"P","year":2161.3,"sd":16.1},{"series":"P","year":2164.6,"sd":16.3},{"series":"P","year":2167,"sd":17.4},{"series":"P","year":2169.5,"sd":19.8},{"series":"P","year":2172.8,"sd":20.5},{"series":"P","year":2176.1,"sd":20.8},{"series":"P","year":2178.6,"sd":21.5},{"series":"P","year":2181,"sd":21.2},{"series":"P","year":2184.3,"sd":20.7},
{"series":"C","year":2015.4,"sd":14.9},{"series":"C","year":2018,"sd":14.6},{"series":"C","year":2020,"sd":15.8},{"series":"C","year":2024,"sd":15.6},{"series":"C","year":2027,"sd":16.0},{"series":"C","year":2030,"sd":15.6},{"series":"C","year":2033,"sd":16.7},{"series":"C","year":2036,"sd":16.3},{"series":"C","year":2040,"sd":16.3},{"series":"C","year":2043,"sd":16.1},{"series":"C","year":2047,"sd":16.3},{"series":"C","year":2050,"sd":16.1},{"series":"C","year":2053,"sd":16.1},{"series":"C","year":2057,"sd":15.3},{"series":"C","year":2060,"sd":16.0},{"series":"C","year":2064,"sd":17.4},{"series":"C","year":2066,"sd":17.4},{"series":"C","year":2070,"sd":17.7},{"series":"C","year":2072,"sd":17.9},{"series":"C","year":2075,"sd":18.9},{"series":"C","year":2078,"sd":19.1},{"series":"C","year":2082,"sd":18.4},{"series":"C","year":2084,"sd":18.4},{"series":"C","year":2088,"sd":18.4},{"series":"C","year":2091,"sd":17.7},{"series":"C","year":2094,"sd":16.0},{"series":"C","year":2097,"sd":14.2},{"series":"C","year":2099,"sd":14.9},{"series":"C","year":2102,"sd":15.6},{"series":"C","year":2106,"sd":16.3},{"series":"C","year":2109,"sd":16.8},{"series":"C","year":2112,"sd":17.4},{"series":"C","year":2115,"sd":17.7},{"series":"C","year":2119,"sd":18.4},{"series":"C","year":2122,"sd":18.9},{"series":"C","year":2125,"sd":18.9},{"series":"C","year":2127,"sd":18.9},{"series":"C","year":2130,"sd":18.4},{"series":"C","year":2133,"sd":17.4},{"series":"C","year":2137,"sd":17.0},{"series":"C","year":2140,"sd":16.8},{"series":"C","year":2143,"sd":16.5},{"series":"C","year":2147,"sd":16.3},{"series":"C","year":2150,"sd":16.0},{"series":"C","year":2153,"sd":16.0},{"series":"C","year":2156,"sd":15.1},{"series":"C","year":2158,"sd":15.8},{"series":"C","year":2161,"sd":15.4},{"series":"C","year":2164,"sd":16.0},{"series":"C","year":2167,"sd":16.7},{"series":"C","year":2169.5,"sd":18.6},{"series":"C","year":2173,"sd":19.6},{"series":"C","year":2176,"sd":19.4},{"series":"C","year":2178.6,"sd":20.1},{"series":"C","year":2181,"sd":19.4},{"series":"C","year":2184,"sd":19.1},
{"series":"E","year":2015,"sd":4.2},{"series":"E","year":2020,"sd":4.2},{"series":"E","year":2025,"sd":4.5},{"series":"E","year":2030,"sd":4.9},{"series":"E","year":2035,"sd":4.9},{"series":"E","year":2040,"sd":4.5},{"series":"E","year":2045,"sd":4.5},{"series":"E","year":2050,"sd":4.2},{"series":"E","year":2055,"sd":3.8},{"series":"E","year":2060,"sd":3.6},{"series":"E","year":2065,"sd":4.0},{"series":"E","year":2070,"sd":3.8},{"series":"E","year":2075,"sd":4.0},{"series":"E","year":2080,"sd":4.0},{"series":"E","year":2085,"sd":3.8},{"series":"E","year":2090,"sd":4.0},{"series":"E","year":2100,"sd":4.0},{"series":"E","year":2110,"sd":4.2},{"series":"E","year":2120,"sd":4.2},{"series":"E","year":2130,"sd":4.0},{"series":"E","year":2140,"sd":3.8},{"series":"E","year":2150,"sd":3.8},{"series":"E","year":2155,"sd":3.3},{"series":"E","year":2160,"sd":3.5},{"series":"E","year":2165,"sd":4.0},{"series":"E","year":2175,"sd":4.2},{"series":"E","year":2184,"sd":4.2}
]
},
"bounds": "flush",
"columns": 2,
"spacing": {"row": 30, "column": 48},
"resolve": {"scale": {"x": "independent", "y": "independent", "strokeDash": "shared", "strokeWidth": "shared"}, "axis": {"x": "independent", "y": "independent"}, "legend": {"strokeDash": "shared", "strokeWidth": "shared"}},
"concat": [
{"title": {"text": "CCMA", "dx": 17, "fontWeight": "normal"}, "width": 427, "height": 144, "resolve": {"axis": {"x": "independent", "y": "independent"}}, "layer": [
 {"data": {"name": "CCMA"}, "mark": {"type": "line", "color": "black", "strokeCap": "butt"}, "encoding": {
  "x": {"field": "year", "type": "quantitative", "scale": {"domain": [1990, 2200], "nice": false, "zero": false}, "axis": {"orient": "bottom", "values": [2010,2040,2070,2100,2130,2160,2190], "format": "d", "labels": false, "ticks": false, "tickSize": 0, "title": null}},
  "y": {"field": "sd", "type": "quantitative", "scale": {"domain": [0, 20], "nice": false}, "axis": {"orient": "left", "values": [0,5,10,15,20], "title": null, "ticks": false, "tickSize": 0, "labelPadding": 5}},
  "strokeDash": {"field": "series", "type": "nominal", "scale": {"domain": ["P","C","E"], "range": [[1,0],[1,0],[6,4]]}, "legend": {"orient": "none", "legendX": 355, "legendY": 743, "direction": "horizontal", "title": null, "symbolType": "stroke"}},
  "strokeWidth": {"field": "series", "type": "nominal", "scale": {"type": "ordinal", "domain": ["P","C","E"], "range": [4.2,1.3,1.1]}, "legend": {"orient": "none", "legendX": 355, "legendY": 743, "direction": "horizontal", "title": null, "symbolType": "stroke"}}}},
 {"data": {"name": "obs"}, "transform": [{"filter": "datum.model === 'CCMA' && datum.stat === 'C'"}], "mark": {"type": "point", "shape": "square", "size": 180, "filled": true, "fill": "white", "stroke": "black", "strokeWidth": 1.3, "opacity": 1}, "encoding": {
  "x": {"field": "year", "type": "quantitative", "axis": {"orient": "bottom", "values": [2010,2040,2070,2100,2130,2160,2190], "labels": false, "domain": false, "title": null, "tickSize": 14, "offset": -14}},
  "y": {"field": "sd", "type": "quantitative", "axis": {"orient": "left", "values": [0,5,10,15,20], "labels": false, "domain": false, "title": null, "tickSize": 18, "offset": -18}}}},
 {"data": {"name": "obs"}, "transform": [{"filter": "datum.model === 'CCMA' && datum.stat === 'E'"}], "mark": {"type": "point", "shape": "diamond", "size": 180, "filled": true, "fill": "white", "stroke": "black", "strokeWidth": 1.3, "opacity": 1}, "encoding": {
  "x": {"field": "year", "type": "quantitative", "axis": {"orient": "bottom", "values": [1995,2025,2055,2085,2115,2145,2175], "labels": false, "domain": false, "title": null, "tickSize": 9, "offset": -9}},
  "y": {"field": "sd", "type": "quantitative", "axis": {"orient": "left", "values": [2.5,7.5,12.5,17.5], "labels": false, "domain": false, "title": null, "tickSize": 10, "offset": -10}}}},
 {"data": {"name": "obs"}, "transform": [{"filter": "datum.model === 'CCMA' && datum.stat === 'P'"}], "mark": {"type": "point", "shape": "circle", "size": 180, "filled": true, "fill": "black", "stroke": "black", "strokeWidth": 1, "opacity": 1}, "encoding": {
  "x": {"field": "year", "type": "quantitative", "axis": null}, "y": {"field": "sd", "type": "quantitative", "axis": null}}}
]},
{"title": {"text": "CNRM", "dx": 67, "fontWeight": "normal"}, "width": 427, "height": 144, "resolve": {"axis": {"x": "independent", "y": "independent"}}, "layer": [
 {"data": {"name": "CNRM"}, "mark": {"type": "line", "color": "black", "strokeCap": "butt"}, "encoding": {
  "x": {"field": "year", "type": "quantitative", "scale": {"domain": [1990, 2200], "nice": false, "zero": false}, "axis": {"orient": "bottom", "values": [2010,2040,2070,2100,2130,2160,2190], "format": "d", "labels": false, "ticks": false, "tickSize": 0, "title": null}},
  "y": {"field": "sd", "type": "quantitative", "scale": {"domain": [0, 30], "nice": false}, "axis": {"orient": "left", "values": [0,5,10,15,20,25,30], "title": null, "ticks": false, "tickSize": 0, "labelPadding": 5}},
  "strokeDash": {"field": "series", "type": "nominal", "scale": {"domain": ["P","C","E"], "range": [[1,0],[1,0],[6,4]]}, "legend": {"orient": "none", "legendX": 355, "legendY": 743, "direction": "horizontal", "title": null, "symbolType": "stroke"}},
  "strokeWidth": {"field": "series", "type": "nominal", "scale": {"type": "ordinal", "domain": ["P","C","E"], "range": [4.2,1.3,1.1]}, "legend": {"orient": "none", "legendX": 355, "legendY": 743, "direction": "horizontal", "title": null, "symbolType": "stroke"}}}},
 {"data": {"name": "obs"}, "transform": [{"filter": "datum.model === 'CNRM' && datum.stat === 'C'"}], "mark": {"type": "point", "shape": "square", "size": 180, "filled": true, "fill": "white", "stroke": "black", "strokeWidth": 1.3, "opacity": 1}, "encoding": {
  "x": {"field": "year", "type": "quantitative", "axis": {"orient": "bottom", "values": [2010,2040,2070,2100,2130,2160,2190], "labels": false, "domain": false, "title": null, "tickSize": 14, "offset": -14}},
  "y": {"field": "sd", "type": "quantitative", "axis": {"orient": "left", "values": [0,5,10,15,20,25,30], "labels": false, "domain": false, "title": null, "tickSize": 18, "offset": -18}}}},
 {"data": {"name": "obs"}, "transform": [{"filter": "datum.model === 'CNRM' && datum.stat === 'E'"}], "mark": {"type": "point", "shape": "diamond", "size": 180, "filled": true, "fill": "white", "stroke": "black", "strokeWidth": 1.3, "opacity": 1}, "encoding": {
  "x": {"field": "year", "type": "quantitative", "axis": {"orient": "bottom", "values": [1995,2025,2055,2085,2115,2145,2175], "labels": false, "domain": false, "title": null, "tickSize": 9, "offset": -9}},
  "y": {"field": "sd", "type": "quantitative", "axis": {"orient": "left", "values": [2.5,7.5,12.5,17.5,22.5,27.5], "labels": false, "domain": false, "title": null, "tickSize": 10, "offset": -10}}}},
 {"data": {"name": "obs"}, "transform": [{"filter": "datum.model === 'CNRM' && datum.stat === 'P'"}], "mark": {"type": "point", "shape": "circle", "size": 180, "filled": true, "fill": "black", "stroke": "black", "strokeWidth": 1, "opacity": 1}, "encoding": {
  "x": {"field": "year", "type": "quantitative", "axis": null}, "y": {"field": "sd", "type": "quantitative", "axis": null}}}
]},
{"title": {"text": "GFDL", "dx": 17, "fontWeight": "normal"}, "width": 427, "height": 144, "resolve": {"axis": {"x": "independent", "y": "independent"}}, "layer": [
 {"data": {"name": "GFDL"}, "mark": {"type": "line", "color": "black", "strokeCap": "butt"}, "encoding": {
  "x": {"field": "year", "type": "quantitative", "scale": {"domain": [1990, 2200], "nice": false, "zero": false}, "axis": {"orient": "bottom", "values": [2010,2040,2070,2100,2130,2160,2190], "format": "d", "labels": false, "ticks": false, "tickSize": 0, "title": null}},
  "y": {"field": "sd", "type": "quantitative", "scale": {"domain": [0, 30], "nice": false}, "axis": {"orient": "left", "values": [0,5,10,15,20,25,30], "title": "Std. Dev. (mm/mon)", "titleY": 158, "titlePadding": 22, "ticks": false, "tickSize": 0, "labelPadding": 5}},
  "strokeDash": {"field": "series", "type": "nominal", "scale": {"domain": ["P","C","E"], "range": [[1,0],[1,0],[6,4]]}, "legend": {"orient": "none", "legendX": 355, "legendY": 743, "direction": "horizontal", "title": null, "symbolType": "stroke"}},
  "strokeWidth": {"field": "series", "type": "nominal", "scale": {"type": "ordinal", "domain": ["P","C","E"], "range": [4.2,1.3,1.1]}, "legend": {"orient": "none", "legendX": 355, "legendY": 743, "direction": "horizontal", "title": null, "symbolType": "stroke"}}}},
 {"data": {"name": "obs"}, "transform": [{"filter": "datum.model === 'GFDL' && datum.stat === 'C'"}], "mark": {"type": "point", "shape": "square", "size": 180, "filled": true, "fill": "white", "stroke": "black", "strokeWidth": 1.3, "opacity": 1}, "encoding": {
  "x": {"field": "year", "type": "quantitative", "axis": {"orient": "bottom", "values": [2010,2040,2070,2100,2130,2160,2190], "labels": false, "domain": false, "title": null, "tickSize": 14, "offset": -14}},
  "y": {"field": "sd", "type": "quantitative", "axis": {"orient": "left", "values": [0,5,10,15,20,25,30], "labels": false, "domain": false, "title": null, "tickSize": 18, "offset": -18}}}},
 {"data": {"name": "obs"}, "transform": [{"filter": "datum.model === 'GFDL' && datum.stat === 'E'"}], "mark": {"type": "point", "shape": "diamond", "size": 180, "filled": true, "fill": "white", "stroke": "black", "strokeWidth": 1.3, "opacity": 1}, "encoding": {
  "x": {"field": "year", "type": "quantitative", "axis": {"orient": "bottom", "values": [1995,2025,2055,2085,2115,2145,2175], "labels": false, "domain": false, "title": null, "tickSize": 9, "offset": -9}},
  "y": {"field": "sd", "type": "quantitative", "axis": {"orient": "left", "values": [2.5,7.5,12.5,17.5,22.5,27.5], "labels": false, "domain": false, "title": null, "tickSize": 10, "offset": -10}}}},
 {"data": {"name": "obs"}, "transform": [{"filter": "datum.model === 'GFDL' && datum.stat === 'P'"}], "mark": {"type": "point", "shape": "circle", "size": 180, "filled": true, "fill": "black", "stroke": "black", "strokeWidth": 1, "opacity": 1}, "encoding": {
  "x": {"field": "year", "type": "quantitative", "axis": null}, "y": {"field": "sd", "type": "quantitative", "axis": null}}}
]},
{"title": {"text": "MPI", "dx": 67, "fontWeight": "normal"}, "width": 427, "height": 144, "resolve": {"axis": {"x": "independent", "y": "independent"}}, "layer": [
 {"data": {"name": "MPI"}, "mark": {"type": "line", "color": "black", "strokeCap": "butt"}, "encoding": {
  "x": {"field": "year", "type": "quantitative", "scale": {"domain": [1990, 2200], "nice": false, "zero": false}, "axis": {"orient": "bottom", "values": [2010,2040,2070,2100,2130,2160,2190], "format": "d", "labels": false, "ticks": false, "tickSize": 0, "title": null}},
  "y": {"field": "sd", "type": "quantitative", "scale": {"domain": [0, 40], "nice": false}, "axis": {"orient": "left", "values": [0,10,20,30,40], "title": null, "ticks": false, "tickSize": 0, "labelPadding": 5}},
  "strokeDash": {"field": "series", "type": "nominal", "scale": {"domain": ["P","C","E"], "range": [[1,0],[1,0],[6,4]]}, "legend": {"orient": "none", "legendX": 355, "legendY": 743, "direction": "horizontal", "title": null, "symbolType": "stroke"}},
  "strokeWidth": {"field": "series", "type": "nominal", "scale": {"type": "ordinal", "domain": ["P","C","E"], "range": [4.2,1.3,1.1]}, "legend": {"orient": "none", "legendX": 355, "legendY": 743, "direction": "horizontal", "title": null, "symbolType": "stroke"}}}},
 {"data": {"name": "obs"}, "transform": [{"filter": "datum.model === 'MPI' && datum.stat === 'C'"}], "mark": {"type": "point", "shape": "square", "size": 180, "filled": true, "fill": "white", "stroke": "black", "strokeWidth": 1.3, "opacity": 1}, "encoding": {
  "x": {"field": "year", "type": "quantitative", "axis": {"orient": "bottom", "values": [2010,2040,2070,2100,2130,2160,2190], "labels": false, "domain": false, "title": null, "tickSize": 14, "offset": -14}},
  "y": {"field": "sd", "type": "quantitative", "axis": {"orient": "left", "values": [0,10,20,30,40], "labels": false, "domain": false, "title": null, "tickSize": 18, "offset": -18}}}},
 {"data": {"name": "obs"}, "transform": [{"filter": "datum.model === 'MPI' && datum.stat === 'E'"}], "mark": {"type": "point", "shape": "diamond", "size": 180, "filled": true, "fill": "white", "stroke": "black", "strokeWidth": 1.3, "opacity": 1}, "encoding": {
  "x": {"field": "year", "type": "quantitative", "axis": {"orient": "bottom", "values": [1995,2025,2055,2085,2115,2145,2175], "labels": false, "domain": false, "title": null, "tickSize": 9, "offset": -9}},
  "y": {"field": "sd", "type": "quantitative", "axis": {"orient": "left", "values": [5,15,25,35], "labels": false, "domain": false, "title": null, "tickSize": 10, "offset": -10}}}},
 {"data": {"name": "obs"}, "transform": [{"filter": "datum.model === 'MPI' && datum.stat === 'P'"}], "mark": {"type": "point", "shape": "circle", "size": 180, "filled": true, "fill": "black", "stroke": "black", "strokeWidth": 1, "opacity": 1}, "encoding": {
  "x": {"field": "year", "type": "quantitative", "axis": null}, "y": {"field": "sd", "type": "quantitative", "axis": null}}}
]},
{"title": {"text": "MRI", "dx": 17, "fontWeight": "normal"}, "width": 427, "height": 144, "resolve": {"axis": {"x": "independent", "y": "independent"}}, "layer": [
 {"data": {"name": "MRI"}, "mark": {"type": "line", "color": "black", "strokeCap": "butt"}, "encoding": {
  "x": {"field": "year", "type": "quantitative", "scale": {"domain": [1990, 2200], "nice": false, "zero": false}, "axis": {"orient": "bottom", "values": [2010,2040,2070,2100,2130,2160,2190], "format": "d", "labels": false, "ticks": false, "tickSize": 0, "title": null}},
  "y": {"field": "sd", "type": "quantitative", "scale": {"domain": [0, 50], "nice": false}, "axis": {"orient": "left", "values": [0,10,20,30,40,50], "title": null, "ticks": false, "tickSize": 0, "labelPadding": 5}},
  "strokeDash": {"field": "series", "type": "nominal", "scale": {"domain": ["P","C","E"], "range": [[1,0],[1,0],[6,4]]}, "legend": {"orient": "none", "legendX": 355, "legendY": 743, "direction": "horizontal", "title": null, "symbolType": "stroke"}},
  "strokeWidth": {"field": "series", "type": "nominal", "scale": {"type": "ordinal", "domain": ["P","C","E"], "range": [4.2,1.3,1.1]}, "legend": {"orient": "none", "legendX": 355, "legendY": 743, "direction": "horizontal", "title": null, "symbolType": "stroke"}}}},
 {"data": {"name": "obs"}, "transform": [{"filter": "datum.model === 'MRI' && datum.stat === 'C'"}], "mark": {"type": "point", "shape": "square", "size": 180, "filled": true, "fill": "white", "stroke": "black", "strokeWidth": 1.3, "opacity": 1}, "encoding": {
  "x": {"field": "year", "type": "quantitative", "axis": {"orient": "bottom", "values": [2010,2040,2070,2100,2130,2160,2190], "labels": false, "domain": false, "title": null, "tickSize": 14, "offset": -14}},
  "y": {"field": "sd", "type": "quantitative", "axis": {"orient": "left", "values": [0,10,20,30,40,50], "labels": false, "domain": false, "title": null, "tickSize": 18, "offset": -18}}}},
 {"data": {"name": "obs"}, "transform": [{"filter": "datum.model === 'MRI' && datum.stat === 'E'"}], "mark": {"type": "point", "shape": "diamond", "size": 180, "filled": true, "fill": "white", "stroke": "black", "strokeWidth": 1.3, "opacity": 1}, "encoding": {
  "x": {"field": "year", "type": "quantitative", "axis": {"orient": "bottom", "values": [1995,2025,2055,2085,2115,2145,2175], "labels": false, "domain": false, "title": null, "tickSize": 9, "offset": -9}},
  "y": {"field": "sd", "type": "quantitative", "axis": {"orient": "left", "values": [5,15,25,35,45], "labels": false, "domain": false, "title": null, "tickSize": 10, "offset": -10}}}},
 {"data": {"name": "obs"}, "transform": [{"filter": "datum.model === 'MRI' && datum.stat === 'P'"}], "mark": {"type": "point", "shape": "circle", "size": 180, "filled": true, "fill": "black", "stroke": "black", "strokeWidth": 1, "opacity": 1}, "encoding": {
  "x": {"field": "year", "type": "quantitative", "axis": null}, "y": {"field": "sd", "type": "quantitative", "axis": null}}}
]},
{"title": {"text": "HADCM", "dx": 67, "fontWeight": "normal"}, "width": 427, "height": 144, "resolve": {"axis": {"x": "independent", "y": "independent"}}, "layer": [
 {"data": {"name": "HADCM"}, "mark": {"type": "line", "color": "black", "strokeCap": "butt"}, "encoding": {
  "x": {"field": "year", "type": "quantitative", "scale": {"domain": [1990, 2200], "nice": false, "zero": false}, "axis": {"orient": "bottom", "values": [2010,2040,2070,2100,2130,2160,2190], "format": "d", "labels": false, "ticks": false, "tickSize": 0, "title": null}},
  "y": {"field": "sd", "type": "quantitative", "scale": {"domain": [0, 40], "nice": false}, "axis": {"orient": "left", "values": [0,10,20,30,40], "title": null, "ticks": false, "tickSize": 0, "labelPadding": 5}},
  "strokeDash": {"field": "series", "type": "nominal", "scale": {"domain": ["P","C","E"], "range": [[1,0],[1,0],[6,4]]}, "legend": {"orient": "none", "legendX": 355, "legendY": 743, "direction": "horizontal", "title": null, "symbolType": "stroke"}},
  "strokeWidth": {"field": "series", "type": "nominal", "scale": {"type": "ordinal", "domain": ["P","C","E"], "range": [4.2,1.3,1.1]}, "legend": {"orient": "none", "legendX": 355, "legendY": 743, "direction": "horizontal", "title": null, "symbolType": "stroke"}}}},
 {"data": {"name": "obs"}, "transform": [{"filter": "datum.model === 'HADCM' && datum.stat === 'C'"}], "mark": {"type": "point", "shape": "square", "size": 180, "filled": true, "fill": "white", "stroke": "black", "strokeWidth": 1.3, "opacity": 1}, "encoding": {
  "x": {"field": "year", "type": "quantitative", "axis": {"orient": "bottom", "values": [2010,2040,2070,2100,2130,2160,2190], "labels": false, "domain": false, "title": null, "tickSize": 14, "offset": -14}},
  "y": {"field": "sd", "type": "quantitative", "axis": {"orient": "left", "values": [0,10,20,30,40], "labels": false, "domain": false, "title": null, "tickSize": 18, "offset": -18}}}},
 {"data": {"name": "obs"}, "transform": [{"filter": "datum.model === 'HADCM' && datum.stat === 'E'"}], "mark": {"type": "point", "shape": "diamond", "size": 180, "filled": true, "fill": "white", "stroke": "black", "strokeWidth": 1.3, "opacity": 1}, "encoding": {
  "x": {"field": "year", "type": "quantitative", "axis": {"orient": "bottom", "values": [1995,2025,2055,2085,2115,2145,2175], "labels": false, "domain": false, "title": null, "tickSize": 9, "offset": -9}},
  "y": {"field": "sd", "type": "quantitative", "axis": {"orient": "left", "values": [5,15,25,35], "labels": false, "domain": false, "title": null, "tickSize": 10, "offset": -10}}}},
 {"data": {"name": "obs"}, "transform": [{"filter": "datum.model === 'HADCM' && datum.stat === 'P'"}], "mark": {"type": "point", "shape": "circle", "size": 180, "filled": true, "fill": "black", "stroke": "black", "strokeWidth": 1, "opacity": 1}, "encoding": {
  "x": {"field": "year", "type": "quantitative", "axis": null}, "y": {"field": "sd", "type": "quantitative", "axis": null}}}
]},
{"title": {"text": "HADGEM", "dx": 17, "fontWeight": "normal"}, "width": 427, "height": 144, "resolve": {"axis": {"x": "independent", "y": "independent"}}, "layer": [
 {"data": {"name": "HADGEM"}, "mark": {"type": "line", "color": "black", "strokeCap": "butt"}, "encoding": {
  "x": {"field": "year", "type": "quantitative", "scale": {"domain": [1990, 2200], "nice": false, "zero": false}, "axis": {"orient": "bottom", "values": [2010,2040,2070,2100,2130,2160,2190], "format": "d", "ticks": false, "tickSize": 0, "labelPadding": 9, "title": "Central Year of 31yr Sliding Window", "titleX": 452, "titleY": 57, "titleBaseline": "alphabetic"}},
  "y": {"field": "sd", "type": "quantitative", "scale": {"domain": [0, 30], "nice": false}, "axis": {"orient": "left", "values": [0,5,10,15,20,25,30], "title": null, "ticks": false, "tickSize": 0, "labelPadding": 5}},
  "strokeDash": {"field": "series", "type": "nominal", "scale": {"domain": ["P","C","E"], "range": [[1,0],[1,0],[6,4]]}, "legend": {"orient": "none", "legendX": 355, "legendY": 743, "direction": "horizontal", "title": null, "symbolType": "stroke"}},
  "strokeWidth": {"field": "series", "type": "nominal", "scale": {"type": "ordinal", "domain": ["P","C","E"], "range": [4.2,1.3,1.1]}, "legend": {"orient": "none", "legendX": 355, "legendY": 743, "direction": "horizontal", "title": null, "symbolType": "stroke"}}}},
 {"data": {"name": "obs"}, "transform": [{"filter": "datum.model === 'HADGEM' && datum.stat === 'C'"}], "mark": {"type": "point", "shape": "square", "size": 180, "filled": true, "fill": "white", "stroke": "black", "strokeWidth": 1.3, "opacity": 1}, "encoding": {
  "x": {"field": "year", "type": "quantitative", "axis": {"orient": "bottom", "values": [2010,2040,2070,2100,2130,2160,2190], "labels": false, "domain": false, "title": null, "tickSize": 14, "offset": -14}},
  "y": {"field": "sd", "type": "quantitative", "axis": {"orient": "left", "values": [0,5,10,15,20,25,30], "labels": false, "domain": false, "title": null, "tickSize": 18, "offset": -18}}}},
 {"data": {"name": "obs"}, "transform": [{"filter": "datum.model === 'HADGEM' && datum.stat === 'E'"}], "mark": {"type": "point", "shape": "diamond", "size": 180, "filled": true, "fill": "white", "stroke": "black", "strokeWidth": 1.3, "opacity": 1}, "encoding": {
  "x": {"field": "year", "type": "quantitative", "axis": {"orient": "bottom", "values": [1995,2025,2055,2085,2115,2145,2175], "labels": false, "domain": false, "title": null, "tickSize": 9, "offset": -9}},
  "y": {"field": "sd", "type": "quantitative", "axis": {"orient": "left", "values": [2.5,7.5,12.5,17.5,22.5,27.5], "labels": false, "domain": false, "title": null, "tickSize": 10, "offset": -10}}}},
 {"data": {"name": "obs"}, "transform": [{"filter": "datum.model === 'HADGEM' && datum.stat === 'P'"}], "mark": {"type": "point", "shape": "circle", "size": 180, "filled": true, "fill": "black", "stroke": "black", "strokeWidth": 1, "opacity": 1}, "encoding": {
  "x": {"field": "year", "type": "quantitative", "axis": null}, "y": {"field": "sd", "type": "quantitative", "axis": null}}}
]},
{"title": {"text": "INMCM", "dx": 67, "fontWeight": "normal"}, "width": 427, "height": 144, "resolve": {"axis": {"x": "independent", "y": "independent"}}, "layer": [
 {"data": {"name": "INMCM"}, "mark": {"type": "line", "color": "black", "strokeCap": "butt"}, "encoding": {
  "x": {"field": "year", "type": "quantitative", "scale": {"domain": [1990, 2200], "nice": false, "zero": false}, "axis": {"orient": "bottom", "values": [2010,2040,2070,2100,2130,2160,2190], "format": "d", "ticks": false, "tickSize": 0, "labelPadding": 9, "title": null}},
  "y": {"field": "sd", "type": "quantitative", "scale": {"domain": [0, 30], "nice": false}, "axis": {"orient": "left", "values": [0,5,10,15,20,25,30], "title": null, "ticks": false, "tickSize": 0, "labelPadding": 5}},
  "strokeDash": {"field": "series", "type": "nominal", "scale": {"domain": ["P","C","E"], "range": [[1,0],[1,0],[6,4]]}, "legend": {"orient": "none", "legendX": 355, "legendY": 743, "direction": "horizontal", "title": null, "symbolType": "stroke"}},
  "strokeWidth": {"field": "series", "type": "nominal", "scale": {"type": "ordinal", "domain": ["P","C","E"], "range": [4.2,1.3,1.1]}, "legend": {"orient": "none", "legendX": 355, "legendY": 743, "direction": "horizontal", "title": null, "symbolType": "stroke"}}}},
 {"data": {"name": "obs"}, "transform": [{"filter": "datum.model === 'INMCM' && datum.stat === 'C'"}], "mark": {"type": "point", "shape": "square", "size": 180, "filled": true, "fill": "white", "stroke": "black", "strokeWidth": 1.3, "opacity": 1}, "encoding": {
  "x": {"field": "year", "type": "quantitative", "axis": {"orient": "bottom", "values": [2010,2040,2070,2100,2130,2160,2190], "labels": false, "domain": false, "title": null, "tickSize": 14, "offset": -14}},
  "y": {"field": "sd", "type": "quantitative", "axis": {"orient": "left", "values": [0,5,10,15,20,25,30], "labels": false, "domain": false, "title": null, "tickSize": 18, "offset": -18}}}},
 {"data": {"name": "obs"}, "transform": [{"filter": "datum.model === 'INMCM' && datum.stat === 'E'"}], "mark": {"type": "point", "shape": "diamond", "size": 180, "filled": true, "fill": "white", "stroke": "black", "strokeWidth": 1.3, "opacity": 1}, "encoding": {
  "x": {"field": "year", "type": "quantitative", "axis": {"orient": "bottom", "values": [1995,2025,2055,2085,2115,2145,2175], "labels": false, "domain": false, "title": null, "tickSize": 9, "offset": -9}},
  "y": {"field": "sd", "type": "quantitative", "axis": {"orient": "left", "values": [2.5,7.5,12.5,17.5,22.5,27.5], "labels": false, "domain": false, "title": null, "tickSize": 10, "offset": -10}}}},
 {"data": {"name": "obs"}, "transform": [{"filter": "datum.model === 'INMCM' && datum.stat === 'P'"}], "mark": {"type": "point", "shape": "circle", "size": 180, "filled": true, "fill": "black", "stroke": "black", "strokeWidth": 1, "opacity": 1}, "encoding": {
  "x": {"field": "year", "type": "quantitative", "axis": null}, "y": {"field": "sd", "type": "quantitative", "axis": null}}}
]}
],
"config": {
 "font": "Liberation Serif",
 "view": {"stroke": "black", "strokeWidth": 1.5},
 "axis": {"grid": false, "domainColor": "black", "domainWidth": 1.5, "tickColor": "black", "tickWidth": 1.3, "labelFont": "Liberation Serif", "labelFontSize": 20, "labelColor": "black", "titleFont": "Liberation Serif", "titleFontSize": 21, "titleFontWeight": "normal", "titleColor": "black", "labelFlush": false, "labelOverlap": false},
 "title": {"font": "Liberation Serif", "fontSize": 21, "fontWeight": "normal", "color": "black", "anchor": "start", "frame": "group", "offset": -8},
 "legend": {"symbolType": "stroke", "symbolSize": 324, "symbolStrokeColor": "black", "labelFont": "Liberation Serif", "labelFontSize": 20, "labelColor": "black", "strokeColor": "black", "padding": 8, "labelOffset": 20, "columnPadding": 6}
}
}
